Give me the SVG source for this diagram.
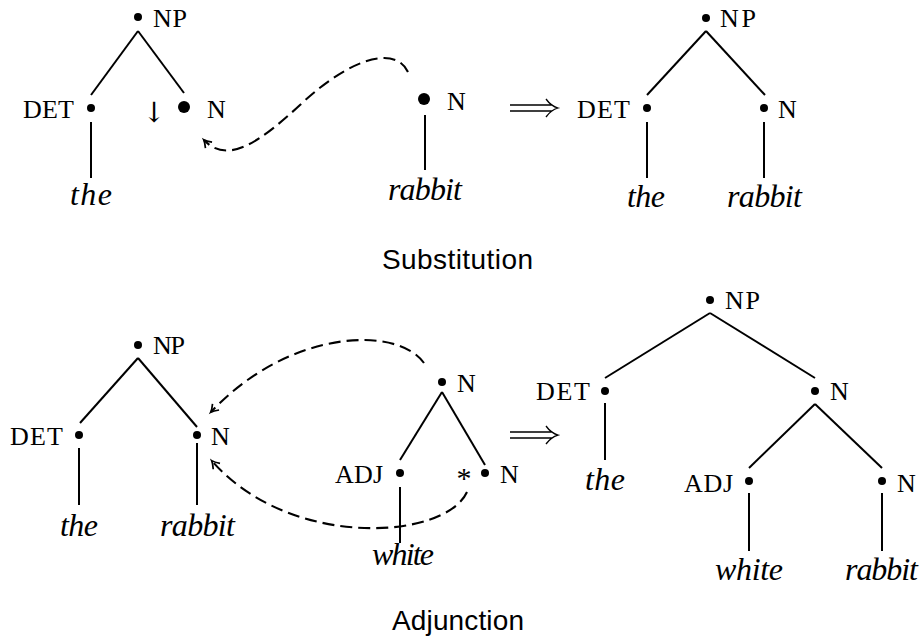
<svg xmlns="http://www.w3.org/2000/svg" width="922" height="641" viewBox="0 0 922 641">
  <defs>
    <!-- small barbed tip for the dashed "moves to" curves -->
    <marker id="tip" markerUnits="userSpaceOnUse" markerWidth="16" markerHeight="16" viewBox="-10 -8 14 16" refX="0" refY="0" orient="auto">
      <path d="M-7,-4.5 Q-2.5,-1 0.5,0 Q-2.5,1 -7,4.5" fill="none" stroke="#000" stroke-width="1.7"/>
    </marker>
    <style>
      .e{stroke:#000;stroke-width:2;fill:none}
      .d{stroke:#000;stroke-width:2.1;fill:none;stroke-dasharray:12 6;marker-end:url(#tip)}
      .dot{fill:#000}
      .lab{font-family:"Liberation Serif",serif;font-size:26px;fill:#000}
      .sym{font-family:"DejaVu Serif",serif;fill:#000}
      .word{font-family:"Liberation Serif",serif;font-style:italic;font-size:32px;fill:#000}
      .cap{font-family:"Liberation Sans",sans-serif;font-size:28px;fill:#000}
      .imp{stroke:#000;stroke-width:1.3;fill:none}
    </style>
  </defs>
  <rect width="922" height="641" fill="#fff"/>

  <!-- tree edges and dashed operation curves -->
  <g id="connectors">
    <!-- substitution: initial tree -->
    <line class="e" x1="138" y1="31" x2="91" y2="95"/>
    <line class="e" x1="138" y1="31" x2="184" y2="93"/>
    <line class="e" x1="91" y1="122" x2="91" y2="178"/>
    <!-- substitution: rabbit tree -->
    <line class="e" x1="425" y1="115" x2="425" y2="170"/>
    <path class="d" d="M408,72 C396,46 352,56 300,105 C262,140 228,166 204,140"/>
    <!-- substitution: result -->
    <line class="e" x1="706" y1="31" x2="647" y2="95"/>
    <line class="e" x1="706" y1="31" x2="765" y2="95"/>
    <line class="e" x1="647" y1="122" x2="647" y2="178"/>
    <line class="e" x1="764" y1="122" x2="764" y2="178"/>

    <!-- adjunction: initial tree -->
    <line class="e" x1="138" y1="358" x2="80" y2="423"/>
    <line class="e" x1="138" y1="358" x2="197" y2="427"/>
    <line class="e" x1="79" y1="448" x2="79" y2="505"/>
    <line class="e" x1="197" y1="443" x2="197" y2="505"/>
    <!-- adjunction: auxiliary tree -->
    <line class="e" x1="442" y1="392" x2="400" y2="460"/>
    <line class="e" x1="442" y1="392" x2="485" y2="465"/>
    <line class="e" x1="400" y1="487" x2="400" y2="543"/>
    <path class="d" d="M424,363 C398,326 290,328 211,412"/>
    <path class="d" d="M467,492 C445,540 290,550 212,461"/>
    <!-- adjunction: result -->
    <line class="e" x1="710" y1="313" x2="605" y2="378"/>
    <line class="e" x1="710" y1="313" x2="815" y2="378"/>
    <line class="e" x1="605" y1="403" x2="605" y2="460"/>
    <line class="e" x1="815" y1="404" x2="749" y2="468"/>
    <line class="e" x1="815" y1="404" x2="882" y2="468"/>
    <line class="e" x1="749" y1="493" x2="749" y2="551"/>
    <line class="e" x1="882" y1="493" x2="882" y2="551"/>
  </g>

  <!-- implication arrows -->
  <g id="implies-sub">
    <path class="imp" d="M510,105 H552 M510,111 H552 M546,99 Q551,106 558,108 Q551,110 546,117"/>
  </g>
  <g id="implies-adj">
    <path class="imp" d="M510,432 H552 M510,438 H552 M546,426 Q551,433 558,435 Q551,437 546,444"/>
  </g>

  <!-- substitution: initial tree -->
  <g id="s-np"><circle class="dot" cx="138" cy="17" r="4"/><text class="lab" x="153" y="27" textLength="34">NP</text></g>
  <g id="s-det"><circle class="dot" cx="91" cy="108" r="4"/><text class="lab" x="23" y="118" textLength="51">DET</text></g>
  <g id="s-n"><text class="sym" x="154" y="122" text-anchor="middle" font-size="28">↓</text><circle class="dot" cx="184" cy="107" r="6"/><text class="lab" x="207" y="118" textLength="16">N</text></g>
  <g id="s-the"><text class="word" x="70" y="205" textLength="42">the</text></g>

  <!-- substitution: rabbit tree -->
  <g id="s-n2"><circle class="dot" cx="424" cy="99" r="6"/><text class="lab" x="447" y="110" textLength="16">N</text></g>
  <g id="s-rabbit"><text class="word" x="388" y="200" textLength="74">rabbit</text></g>

  <!-- substitution: result -->
  <g id="r1-np"><circle class="dot" cx="706" cy="18" r="4"/><text class="lab" x="720" y="27" textLength="36">NP</text></g>
  <g id="r1-det"><circle class="dot" cx="647" cy="108" r="4"/><text class="lab" x="577" y="118" textLength="53">DET</text></g>
  <g id="r1-n"><circle class="dot" cx="764" cy="108" r="4"/><text class="lab" x="778" y="118" textLength="16">N</text></g>
  <g id="r1-the"><text class="word" x="627" y="207" textLength="38">the</text></g>
  <g id="r1-rabbit"><text class="word" x="727" y="207" textLength="75">rabbit</text></g>

  <g id="cap-sub"><text class="cap" x="382" y="269" textLength="151">Substitution</text></g>

  <!-- adjunction: initial tree -->
  <g id="a-np"><circle class="dot" cx="138" cy="345" r="4"/><text class="lab" x="153" y="354" textLength="32">NP</text></g>
  <g id="a-det"><circle class="dot" cx="79" cy="435" r="4"/><text class="lab" x="10" y="445" textLength="53">DET</text></g>
  <g id="a-n"><circle class="dot" cx="197" cy="435" r="4"/><text class="lab" x="211" y="445" textLength="15">N</text></g>
  <g id="a-the"><text class="word" x="60" y="536" textLength="38">the</text></g>
  <g id="a-rabbit"><text class="word" x="160" y="536" textLength="75">rabbit</text></g>

  <!-- adjunction: auxiliary tree -->
  <g id="x-n"><circle class="dot" cx="442" cy="382" r="4"/><text class="lab" x="457" y="392" textLength="15">N</text></g>
  <g id="x-adj"><circle class="dot" cx="400" cy="473" r="4"/><text class="lab" x="335" y="483" textLength="48">ADJ</text></g>
  <g id="x-foot"><text class="lab" x="464" y="488" text-anchor="middle" style="font-size:30px">*</text><circle class="dot" cx="485" cy="473" r="4"/><text class="lab" x="500" y="483" textLength="15">N</text></g>
  <g id="x-white"><text class="word" x="372" y="565" textLength="62">white</text></g>

  <!-- adjunction: result -->
  <g id="r2-np"><circle class="dot" cx="710" cy="300" r="4"/><text class="lab" x="725" y="309" textLength="35">NP</text></g>
  <g id="r2-det"><circle class="dot" cx="605" cy="391" r="4"/><text class="lab" x="536" y="400" textLength="54">DET</text></g>
  <g id="r2-n"><circle class="dot" cx="815" cy="391" r="4"/><text class="lab" x="830" y="400" textLength="15">N</text></g>
  <g id="r2-the"><text class="word" x="585" y="490" textLength="40">the</text></g>
  <g id="r2-adj"><circle class="dot" cx="749" cy="481" r="4"/><text class="lab" x="684" y="492" textLength="49">ADJ</text></g>
  <g id="r2-n2"><circle class="dot" cx="882" cy="481" r="4"/><text class="lab" x="897" y="492" textLength="15">N</text></g>
  <g id="r2-white"><text class="word" x="715" y="580" textLength="68">white</text></g>
  <g id="r2-rabbit"><text class="word" x="845" y="580" textLength="73">rabbit</text></g>

  <g id="cap-adj"><text class="cap" x="392" y="630" textLength="132">Adjunction</text></g>
</svg>
